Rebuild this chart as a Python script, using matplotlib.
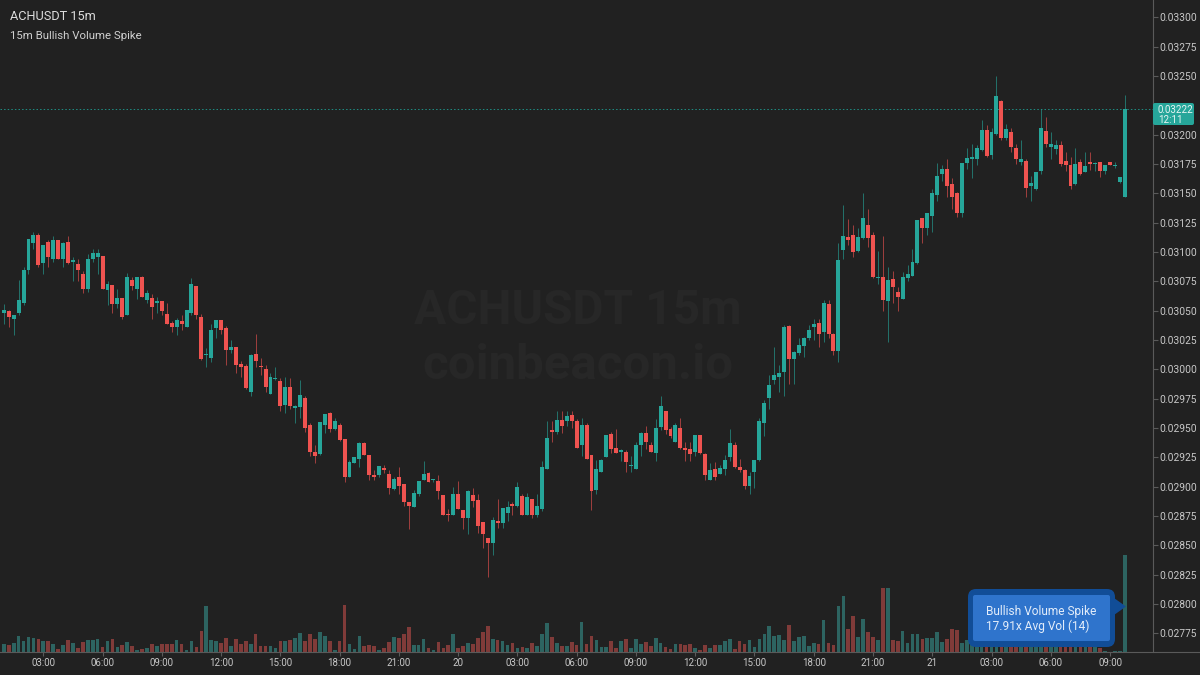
import numpy as np
import matplotlib
matplotlib.use("Agg")
import matplotlib.pyplot as plt
from matplotlib.patches import FancyBboxPatch, Polygon

plt.rcParams['font.family'] = ['Roboto', 'DejaVu Sans']

opens = np.array([
    3048, 3050, 3043, 3048, 3057, 3085, 3108, 3115, 3091, 3109, 3094, 3110, 3094, 3109, 3092, 3090, 3081, 3069, 3094, 3096,
    3097, 3068, 3072, 3056, 3061, 3046, 3076, 3069, 3079, 3059, 3061, 3057, 3058, 3047, 3040, 3036, 3041, 3036, 3048, 3071,
    3045, 3012, 3010, 3035, 3042, 3035, 3017, 3019, 3005, 3003, 2981, 3013, 3003, 3000, 2979, 2992, 2990, 2970, 2985, 2967,
    2968, 2976, 2953, 2930, 2928, 2953, 2963, 2949, 2953, 2941, 2908, 2920, 2924, 2937, 2927, 2910, 2910, 2916, 2911,
    2898, 2908, 2902, 2887, 2883, 2894, 2906, 2912, 2906, 2905, 2893, 2877, 2876, 2894, 2880, 2873, 2893, 2889, 2870, 2856,
    2852, 2871, 2869, 2878, 2885, 2884, 2892, 2876, 2890, 2876, 2881, 2915, 2948, 2947, 2957, 2956, 2961, 2956,
    2936, 2953, 2927, 2897, 2913, 2925, 2945, 2933, 2930, 2930, 2918, 2915, 2936, 2946, 2936, 2929, 2951, 2965, 2949, 2938,
    2950, 2933, 2932, 2930, 2944, 2928, 2906, 2915, 2911, 2915, 2925, 2936, 2917, 2914, 2901, 2913, 2923,
    2954, 2976, 2991, 2994, 2998, 3037, 3009, 3014, 3020, 3027, 3036, 3040, 3032, 3056, 3030, 3016, 3102, 3113, 3115, 3101,
    3112, 3123, 3115, 3078, 3079, 3058, 3077, 3066, 3060, 3078, 3080, 3091, 3129, 3121,
    3131, 3149, 3167, 3171, 3158, 3150, 3133, 3176, 3179, 3179, 3187, 3204, 3183, 3201, 3229, 3197, 3202, 3189, 3177, 3178,
    3156, 3154, 3169, 3203, 3190, 3188, 3191, 3178, 3174, 3158, 3177, 3168, 3177, 3175, 3177, 3169, 3177, 3173, 3160, 3147,
]) / 1e5
closes = np.array([
    3051, 3045, 3046, 3059, 3085, 3111, 3115, 3089, 3106, 3096, 3110, 3094, 3108, 3091, 3093, 3085, 3069, 3094, 3099, 3099,
    3069, 3073, 3056, 3061, 3045, 3079, 3071, 3079, 3062, 3065, 3053, 3058, 3050, 3039, 3036, 3042, 3039, 3051, 3073, 3046,
    3009, 3013, 3034, 3042, 3034, 3017, 3019, 3004, 3002, 2984, 3012, 3007, 3002, 2985, 2994, 2993, 2969, 2985, 2969, 2969,
    2978, 2950, 2930, 2926, 2955, 2962, 2949, 2956, 2940, 2908, 2921, 2925, 2937, 2927, 2910, 2908, 2918, 2914, 2899,
    2907, 2901, 2887, 2884, 2895, 2905, 2911, 2904, 2907, 2896, 2876, 2876, 2894, 2881, 2873, 2896, 2888, 2867, 2860, 2852,
    2872, 2869, 2882, 2883, 2884, 2900, 2876, 2891, 2876, 2884, 2917, 2942, 2947, 2957, 2952, 2960, 2956, 2933,
    2953, 2924, 2896, 2915, 2923, 2944, 2932, 2929, 2931, 2921, 2919, 2936, 2946, 2938, 2930, 2950, 2969, 2948, 2943, 2953,
    2933, 2931, 2928, 2944, 2929, 2910, 2914, 2908, 2916, 2923, 2937, 2917, 2914, 2901, 2909, 2923, 2956,
    2971, 2987, 2995, 2997, 3036, 3009, 3015, 3021, 3027, 3034, 3039, 3030, 3057, 3030, 3016, 3093, 3114, 3110, 3100, 3113,
    3129, 3112, 3079, 3079, 3059, 3076, 3070, 3062, 3079, 3081, 3092, 3127, 3121, 3133,
    3150, 3165, 3171, 3156, 3147, 3133, 3176, 3180, 3181, 3189, 3204, 3182, 3202, 3233, 3197, 3205, 3190, 3179, 3179, 3155,
    3159, 3168, 3206, 3192, 3192, 3191, 3175, 3174, 3156, 3175, 3167, 3173, 3175, 3176, 3169, 3174, 3174, 3174, 3164, 3222,
]) / 1e5
highs = np.array([
    3056, 3051, 3046, 3076, 3087, 3111, 3117, 3116, 3106, 3110, 3114, 3110, 3109, 3114, 3096, 3094, 3084, 3098, 3103, 3103,
    3097, 3075, 3072, 3069, 3061, 3082, 3079, 3079, 3080, 3068, 3064, 3062, 3058, 3057, 3041, 3044, 3046, 3051, 3078, 3071,
    3047, 3018, 3039, 3042, 3042, 3037, 3025, 3019, 3007, 3005, 3013, 3030, 3010, 3004, 2997, 3002, 2993, 2994, 2993, 2970,
    2991, 2977, 2954, 2936, 2955, 2962, 2964, 2959, 2954, 2941, 2923, 2925, 2938, 2938, 2927, 2914, 2918, 2919, 2914,
    2908, 2917, 2902, 2887, 2897, 2905, 2922, 2913, 2907, 2910, 2893, 2881, 2900, 2905, 2880, 2897, 2899, 2894, 2870, 2856,
    2874, 2890, 2882, 2888, 2887, 2904, 2894, 2895, 2890, 2894, 2922, 2956, 2956, 2965, 2965, 2965, 2965, 2958,
    2959, 2954, 2927, 2923, 2924, 2944, 2947, 2949, 2932, 2931, 2926, 2938, 2947, 2952, 2938, 2958, 2977, 2965, 2951, 2954,
    2959, 2938, 2938, 2944, 2944, 2929, 2920, 2921, 2919, 2927, 2949, 2938, 2924, 2915, 2913, 2923, 2959,
    2974, 2995, 3019, 3004, 3038, 3038, 3016, 3027, 3028, 3038, 3043, 3043, 3059, 3059, 3031, 3108, 3140, 3128, 3123, 3121,
    3150, 3137, 3117, 3101, 3114, 3087, 3084, 3070, 3083, 3089, 3103, 3127, 3129, 3133,
    3154, 3176, 3174, 3179, 3163, 3151, 3176, 3189, 3192, 3191, 3213, 3208, 3206, 3250, 3230, 3209, 3206, 3192, 3196, 3179,
    3165, 3168, 3222, 3215, 3202, 3196, 3195, 3185, 3181, 3189, 3179, 3185, 3185, 3177, 3177, 3174, 3177, 3177, 3164, 3234,
]) / 1e5
lows = np.array([
    3039, 3036, 3029, 3046, 3055, 3081, 3103, 3087, 3081, 3087, 3092, 3094, 3087, 3090, 3075, 3075, 3065, 3066, 3092, 3081,
    3069, 3055, 3048, 3052, 3043, 3046, 3068, 3060, 3062, 3057, 3043, 3048, 3046, 3039, 3032, 3029, 3034, 3036, 3046, 3043,
    3008, 3002, 3006, 3027, 3030, 3004, 3014, 2997, 2994, 2983, 2977, 3002, 2995, 2981, 2979, 2991, 2965, 2963, 2966, 2954,
    2959, 2947, 2926, 2920, 2927, 2946, 2947, 2948, 2939, 2904, 2908, 2920, 2917, 2927, 2906, 2906, 2908, 2912, 2894,
    2897, 2894, 2884, 2864, 2883, 2892, 2906, 2904, 2904, 2890, 2876, 2871, 2876, 2881, 2864, 2860, 2883, 2861, 2848, 2823,
    2842, 2865, 2865, 2871, 2876, 2883, 2876, 2876, 2873, 2874, 2879, 2915, 2938, 2945, 2946, 2952, 2950, 2933,
    2926, 2924, 2880, 2894, 2913, 2925, 2929, 2929, 2922, 2913, 2913, 2915, 2926, 2932, 2930, 2922, 2948, 2945, 2942, 2938,
    2932, 2922, 2922, 2926, 2928, 2906, 2906, 2906, 2911, 2910, 2922, 2916, 2913, 2898, 2894, 2899, 2922,
    2943, 2966, 2988, 2981, 2977, 2988, 2988, 3012, 3011, 3025, 3025, 3019, 3023, 3027, 3012, 3006, 3094, 3106, 3096, 3100,
    3111, 3104, 3078, 3073, 3050, 3023, 3057, 3050, 3060, 3075, 3080, 3090, 3108, 3115,
    3117, 3144, 3161, 3147, 3137, 3130, 3130, 3171, 3163, 3174, 3186, 3181, 3179, 3200, 3196, 3196, 3185, 3175, 3174, 3147,
    3144, 3153, 3167, 3190, 3179, 3184, 3173, 3169, 3154, 3157, 3166, 3168, 3170, 3169, 3164, 3167, 3174, 3172, 3159, 3147,
]) / 1e5
# no scale is shown for volume, so these are relative
volumes = np.array([
    25, 20, 28, 47, 34, 46, 43, 38, 34, 32, 23, 8, 22, 35, 28, 13, 31, 35, 35, 40,
    15, 33, 39, 14, 21, 31, 19, 6, 10, 12, 25, 18, 24, 24, 24, 35, 24, 7, 32, 16,
    64, 137, 35, 34, 28, 43, 17, 39, 23, 32, 24, 54, 18, 17, 19, 11, 33, 32, 37, 42,
    56, 34, 53, 38, 61, 47, 33, 7, 33, 142, 25, 10, 48, 18, 22, 17, 6, 11, 30, 44,
    43, 55, 75, 22, 20, 38, 11, 6, 29, 12, 22, 53, 13, 19, 28, 24, 41, 59, 78, 38,
    36, 33, 20, 26, 13, 16, 11, 26, 19, 55, 88, 45, 27, 19, 18, 29, 20, 90, 25, 49,
    35, 16, 16, 32, 11, 33, 40, 13, 39, 23, 29, 19, 41, 27, 16, 8, 24, 24, 21, 23,
    13, 7, 21, 11, 20, 20, 33, 38, 8, 33, 24, 37, 14, 40, 54, 77, 49, 52, 36, 82,
    34, 45, 49, 19, 26, 25, 96, 27, 21, 137, 168, 68, 107, 44, 99, 60, 44, 36, 193, 191,
    35, 33, 62, 26, 53, 54, 38, 41, 41, 61, 31, 38, 70, 66, 26, 35, 30, 25, 45, 40,
    35, 60, 50, 30, 25, 28, 20, 35, 25, 22, 40, 30, 18, 15, 22, 20, 25, 22, 20, 18,
    22, 20, 12, 3, 1, 4, 2, 290,
])

price_ticks = [0.03300, 0.03275, 0.03250, 0.03200, 0.03175, 0.03150, 0.03125, 0.03100, 0.03075, 0.03050, 0.03025,
               0.03000, 0.02975, 0.02950, 0.02925, 0.02900, 0.02875, 0.02850, 0.02825, 0.02800, 0.02775]
time_tick_idx = [8, 20, 32, 44, 56, 68, 80, 92, 104, 116, 128, 140, 152, 164, 176, 188, 200, 212, 224]
time_labels = ["03:00", "06:00", "09:00", "12:00", "15:00", "18:00", "21:00", "20", "03:00", "06:00", "09:00",
               "12:00", "15:00", "18:00", "21:00", "21", "03:00", "06:00", "09:00"]
last_price = 0.03222

BG = "#212121"
UP = "#26a69a"
DOWN = "#ef5350"
UP_VOL = "#2d6461"
DOWN_VOL = "#803b39"
AXIS = "#5a5a5a"
TEXT = "#c8c8c8"

idx = np.arange(len(opens))
up = closes >= opens
body_colors = np.where(up, UP, DOWN)
vol_colors = np.where(up, UP_VOL, DOWN_VOL)

fig = plt.figure(figsize=(12, 6.75), dpi=100, facecolor=BG)
rect = [0, (675 - 652) / 675, 1152.5 / 1200, 652 / 675]

ax = fig.add_axes(rect, facecolor=BG)
ax.set_xlim(-0.77, 232.6)
ax.set_ylim(0.027592, 0.033149)

# volume pane shares the same area
vol = fig.add_axes(rect, sharex=ax)
vol.patch.set_visible(False)
vol.set_ylim(0, 1956)
vol.axis("off")
vol.bar(idx, volumes, width=0.74, color=vol_colors, linewidth=0)

ax.vlines(idx, lows, highs, colors=body_colors, linewidth=0.72, alpha=0.6, zorder=2)
ax.bar(idx, np.abs(closes - opens), bottom=np.minimum(opens, closes), width=0.8,
       color=body_colors, linewidth=0, zorder=3)
ax.axhline(last_price, color="#1f8a80", lw=0.72, ls=(0, (1.5, 2.1)), zorder=1)

ax.yaxis.tick_right()
ax.set_yticks(price_ticks)
ax.set_yticklabels([f"{p:.5f}" for p in price_ticks])
ax.set_xticks(time_tick_idx)
ax.set_xticklabels(time_labels)
ax.tick_params(axis="y", colors=AXIS, labelcolor=TEXT, labelsize=7.4, length=3.5, width=0.8, pad=1.1)
ax.tick_params(axis="x", colors=AXIS, labelcolor=TEXT, labelsize=7.0, length=3, width=0.8, pad=1.5)
for side in ["left", "top", "bottom"]:
    ax.spines[side].set_visible(False)
ax.spines["right"].set_color(AXIS)
ax.spines["right"].set_linewidth(0.8)

# overlay in pixel coordinates for titles, watermark, tag and tooltip
over = fig.add_axes([0, 0, 1, 1])
over.set_xlim(0, 1200)
over.set_ylim(675, 0)
over.axis("off")
over.plot([0, 1200], [652, 652], color=AXIS, lw=0.8)

over.text(578, 311, "ACHUSDT 15m", color="#272727", fontsize=34.5, fontweight="bold", ha="center", va="center")
over.text(578, 366, "coinbeacon.io", color="#272727", fontsize=35.5, fontweight="bold", ha="center", va="center")

over.text(10, 16, "ACHUSDT 15m", color="#dcdcdc", fontsize=9.2, va="center")
over.text(10, 36, "15m Bullish Volume Spike", color="#d0d0d0", fontsize=8.2, va="center")

over.add_patch(FancyBboxPatch((1153, 103), 41, 22, boxstyle="round,pad=0,rounding_size=2", fc=UP, ec="none"))
over.text(1158, 110, "0.03222", color="#e8f5f3", fontsize=7.0, va="center")
over.text(1158, 120, "12:11", color="#e8f5f3", fontsize=7.0, va="center")

over.add_patch(Polygon([[1114, 598], [1126, 606.5], [1114, 615]], closed=True, fc="#114d97", ec="none"))
over.add_patch(FancyBboxPatch((968, 589), 147, 58, boxstyle="round,pad=0,rounding_size=8", fc="#114d97", ec="none"))
over.add_patch(FancyBboxPatch((973, 595), 137, 46, boxstyle="round,pad=0,rounding_size=2", fc="#2f74cc", ec="none"))
over.text(985.5, 611, "Bullish Volume Spike", color="#e3edfa", fontsize=8.6, va="center")
over.text(985.5, 626, "17.91x Avg Vol (14)", color="#e3edfa", fontsize=8.6, va="center")

plt.savefig("out.png", dpi=100, facecolor=BG)
